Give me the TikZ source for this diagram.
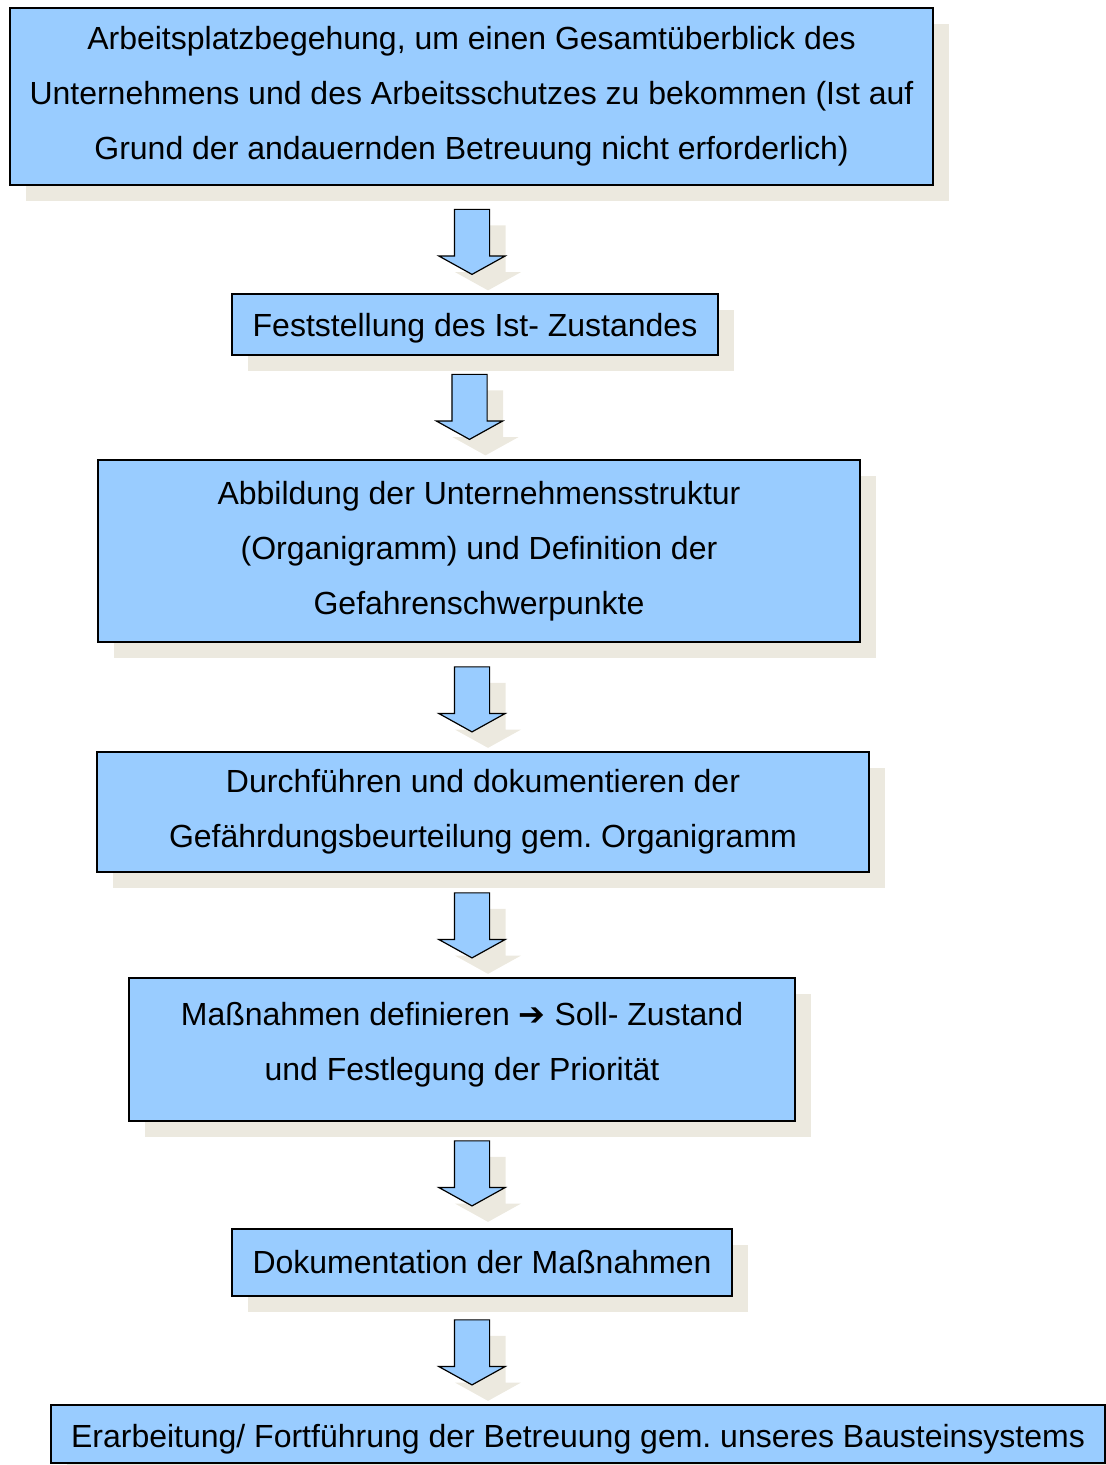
\documentclass[tikz,border=0pt]{standalone}
\usepackage{fontspec}
\setmainfont{Liberation Sans}
\newfontfamily\symfont{DejaVu Sans}
\usetikzlibrary{shapes.arrows}
\usetikzlibrary{shadows}
\frenchspacing
\definecolor{boxblue}{HTML}{99CCFF}
\definecolor{shadowbeige}{HTML}{ECE9DF}
\tikzstyle{beigeshadow}=[drop shadow={shadow xshift=16pt, shadow yshift=-16pt, fill=shadowbeige, opacity=1}]
\tikzstyle{stepbox}=[draw, line width=1.5pt, fill=boxblue, beigeshadow, align=center, inner sep=0pt, font=\fontsize{32}{55}\selectfont]
\tikzstyle{downarrow}=[single arrow, draw, line width=1.2pt, fill=boxblue, beigeshadow, shape border rotate=270, inner sep=17pt, minimum height=65pt, single arrow head extend=15.5pt, single arrow tip angle=122]

\begin{document}
\begin{tikzpicture}[x=1pt, y=-1pt]
        \useasboundingbox (0, 0) rectangle (1106, 1465);
        \node[stepbox, minimum width=923pt, minimum height=177pt] (B1) at (471.5, 96.5)
            {Arbeitsplatzbegehung, um einen Gesamtüberblick des\\Unternehmens und des Arbeitsschutzes zu bekommen (Ist auf\\Grund der andauernden Betreuung nicht erforderlich)};
        \node[stepbox, minimum width=486pt, minimum height=61pt, text height=30pt, text depth=7pt] (B2) at (475, 324.5) {Feststellung des Ist- Zustandes};
        \node[stepbox, minimum width=762pt, minimum height=182pt] (B3) at (479, 551)
            {Abbildung der Unternehmensstruktur\\(Organigramm) und Definition der\\Gefahrenschwerpunkte};
        \node[stepbox, minimum width=772pt, minimum height=120pt] (B4) at (483, 812)
            {Durchführen und dokumentieren der\\Gefährdungsbeurteilung gem. Organigramm};
        \node[stepbox, minimum width=666pt, minimum height=143pt, text depth=17pt] (B5) at (462, 1049.5)
            {Maßnahmen definieren {\symfont\bfseries ➔} Soll- Zustand\\und Festlegung der Priorität};
        \node[stepbox, minimum width=500pt, minimum height=67pt]  (B6) at (482, 1262.5) {Dokumentation der Maßnahmen};
        \node[stepbox, minimum width=1054pt, minimum height=58pt, text height=33pt, text depth=7pt] (B7) at (578, 1434)
            {Erarbeitung/ Fortführung der Betreuung gem. unseres Bausteinsystems};
        \node[downarrow] (P1) at (472, 237)    {};
        \node[downarrow] (P2) at (469.5, 402)  {};
        \node[downarrow] (P3) at (472, 694.5)  {};
        \node[downarrow] (P4) at (472, 920.5)  {};
        \node[downarrow] (P5) at (472, 1168.5) {};
        \node[downarrow] (P6) at (472, 1347.5) {};
    \end{tikzpicture}
\end{document}
